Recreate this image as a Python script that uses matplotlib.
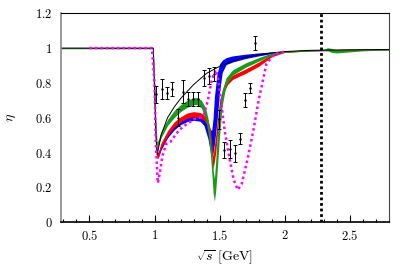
import numpy as np
import matplotlib
matplotlib.use("Agg")
import matplotlib.pyplot as plt
from matplotlib.ticker import MultipleLocator, FuncFormatter

plt.rcParams['mathtext.fontset'] = 'cm'
plt.rcParams['font.family'] = 'serif'
plt.rcParams['font.serif'] = ['DejaVu Serif']

# black thin curve
bx = [0.28, 0.99, 1.0, 1.01, 1.02, 1.05, 1.1, 1.15, 1.2, 1.3, 1.4, 1.5, 1.6, 1.7, 1.8, 1.9, 2.0, 2.2, 2.5, 2.8]
by = [1.0, 1.0, 0.75, 0.5, 0.385, 0.50, 0.60, 0.66, 0.71, 0.79, 0.855, 0.895, 0.925, 0.947, 0.962, 0.972, 0.98, 0.987, 0.99, 0.992]

# magenta dotted curve
mx = [0.5, 0.98, 1.0, 1.01, 1.025, 1.04, 1.06, 1.09, 1.12, 1.19, 1.25, 1.3, 1.35, 1.38, 1.41, 1.44, 1.47, 1.49, 1.51, 1.54, 1.58, 1.61, 1.64, 1.67, 1.72, 1.76, 1.8, 1.86, 1.92, 2.0]
my = [1.0, 1.0, 0.8, 0.45, 0.225, 0.28, 0.38, 0.45, 0.46, 0.53, 0.565, 0.59, 0.60, 0.62, 0.70, 0.82, 0.875, 0.82, 0.70, 0.52, 0.35, 0.24, 0.186, 0.22, 0.38, 0.53, 0.70, 0.91, 0.965, 0.98]

# blue band
blu_x = [0.28, 0.99, 1.0, 1.01, 1.02, 1.03, 1.05, 1.1, 1.15, 1.2, 1.25, 1.3, 1.35, 1.38, 1.41, 1.43, 1.44, 1.45, 1.46, 1.48, 1.5, 1.52, 1.55, 1.6, 1.7, 1.8, 1.9, 2.0, 2.2, 2.5, 2.8]
blu_lo = [0.997, 0.997, 0.72, 0.46, 0.37, 0.375, 0.415, 0.485, 0.53, 0.56, 0.578, 0.585, 0.58, 0.555, 0.48, 0.40, 0.38, 0.40, 0.45, 0.58, 0.75, 0.86, 0.905, 0.92, 0.94, 0.955, 0.968, 0.977, 0.984, 0.987, 0.99]
blu_hi = [1.003, 1.003, 0.80, 0.54, 0.40, 0.405, 0.445, 0.515, 0.56, 0.59, 0.608, 0.615, 0.61, 0.59, 0.56, 0.53, 0.53, 0.60, 0.72, 0.85, 0.91, 0.93, 0.945, 0.955, 0.965, 0.972, 0.978, 0.983, 0.99, 0.993, 0.994]

# red band
red_x = [0.28, 0.99, 1.0, 1.01, 1.02, 1.03, 1.05, 1.1, 1.15, 1.2, 1.25, 1.3, 1.35, 1.38, 1.41, 1.43, 1.45, 1.47, 1.5, 1.53, 1.56, 1.6, 1.7, 1.8, 1.9, 2.0, 2.2, 2.5, 2.8]
red_lo = [0.997, 0.997, 0.72, 0.46, 0.365, 0.37, 0.425, 0.495, 0.545, 0.575, 0.597, 0.605, 0.60, 0.585, 0.55, 0.47, 0.30, 0.40, 0.64, 0.74, 0.79, 0.82, 0.855, 0.895, 0.95, 0.975, 0.984, 0.987, 0.99]
red_hi = [1.003, 1.003, 0.80, 0.54, 0.39, 0.40, 0.455, 0.525, 0.575, 0.605, 0.627, 0.635, 0.63, 0.615, 0.59, 0.53, 0.38, 0.50, 0.70, 0.78, 0.82, 0.845, 0.88, 0.92, 0.965, 0.983, 0.99, 0.993, 0.994]

# green band
grn_x = [0.28, 0.99, 1.0, 1.01, 1.02, 1.03, 1.05, 1.1, 1.15, 1.2, 1.25, 1.3, 1.33, 1.36, 1.39, 1.41, 1.43, 1.44, 1.45, 1.46, 1.47, 1.48, 1.5, 1.52, 1.55, 1.6, 1.7, 1.8, 1.9, 2.0, 2.2, 2.3, 2.33, 2.36, 2.4, 2.5, 2.6, 2.8]
grn_lo = [0.997, 0.997, 0.74, 0.50, 0.425, 0.44, 0.485, 0.555, 0.60, 0.635, 0.66, 0.675, 0.675, 0.655, 0.60, 0.52, 0.38, 0.28, 0.17, 0.12, 0.18, 0.28, 0.50, 0.67, 0.79, 0.845, 0.89, 0.925, 0.96, 0.976, 0.983, 0.986, 0.985, 0.975, 0.972, 0.978, 0.984, 0.989]
grn_hi = [1.003, 1.003, 0.82, 0.58, 0.46, 0.475, 0.52, 0.59, 0.64, 0.675, 0.70, 0.715, 0.715, 0.70, 0.66, 0.60, 0.48, 0.40, 0.30, 0.25, 0.35, 0.48, 0.66, 0.76, 0.83, 0.875, 0.915, 0.945, 0.972, 0.984, 0.99, 0.993, 1.002, 0.998, 0.99, 0.99, 0.99, 0.993]

# data points with errors
ex = [1.015, 1.055, 1.095, 1.135, 1.18, 1.215, 1.255, 1.295, 1.335, 1.38, 1.418, 1.456, 1.495, 1.535, 1.577, 1.618, 1.656, 1.698, 1.736, 1.775]
ey = [0.735, 0.765, 0.74, 0.765, 0.60, 0.75, 0.71, 0.71, 0.71, 0.83, 0.84, 0.85, 0.59, 0.415, 0.42, 0.395, 0.48, 0.70, 0.77, 1.03]
ee = [0.05, 0.058, 0.035, 0.04, 0.05, 0.065, 0.04, 0.04, 0.04, 0.045, 0.045, 0.04, 0.057, 0.045, 0.05, 0.05, 0.03, 0.04, 0.03, 0.04]

x_cut = 2.28

fig = plt.figure(figsize=(4.11, 2.70), dpi=100)
ax = fig.add_axes([0.148, 0.177, 0.798, 0.774])

ax.fill_between(blu_x, blu_lo, blu_hi, color='#0000ff', lw=0)
ax.fill_between(red_x, red_lo, red_hi, color='#ff0000', lw=0)
ax.fill_between(grn_x, grn_lo, grn_hi, color='#1a9a1a', lw=0)
ax.plot(bx, by, color='black', lw=0.7)
ax.plot(mx, my, color='#ff00ff', lw=1.8, ls=(0, (1, 1.2)))
ax.errorbar(ex, ey, yerr=ee, fmt='.', ms=1.5, color='black', ecolor='black', elinewidth=0.7, capsize=1.3, capthick=0.7)
ax.axvline(x_cut, color='black', lw=2, ls=(0, (1, 1)))

ax.set_xlim(0.28, 2.8)
ax.set_ylim(0, 1.2)
ax.xaxis.set_major_locator(MultipleLocator(0.5))
ax.xaxis.set_minor_locator(MultipleLocator(0.1))
ax.yaxis.set_major_locator(MultipleLocator(0.2))
fmt = FuncFormatter(lambda v, p: r'$%g$' % round(v, 2))
ax.xaxis.set_major_formatter(fmt)
ax.yaxis.set_major_formatter(fmt)
ax.tick_params(axis='x', which='major', direction='in', length=5, width=0.8, labelsize=9, pad=5)
ax.tick_params(axis='x', which='minor', direction='in', length=2.5, width=0.8)
ax.tick_params(axis='y', which='both', length=0, labelsize=9, pad=6)

ax.spines['bottom'].set_linewidth(1.2)
ax.spines['left'].set_color('#888888')
ax.spines['left'].set_linewidth(1.2)
ax.spines['top'].set_linewidth(0.8)
ax.spines['right'].set_color('#444444')
ax.spines['right'].set_linewidth(0.8)

ax.set_xlabel(r'$\sqrt{s}\;[\mathrm{GeV}]$', fontsize=10, labelpad=4)
ax.set_ylabel(r'$\eta$', fontsize=10, labelpad=12)

fig.savefig('out.png', dpi=100)
